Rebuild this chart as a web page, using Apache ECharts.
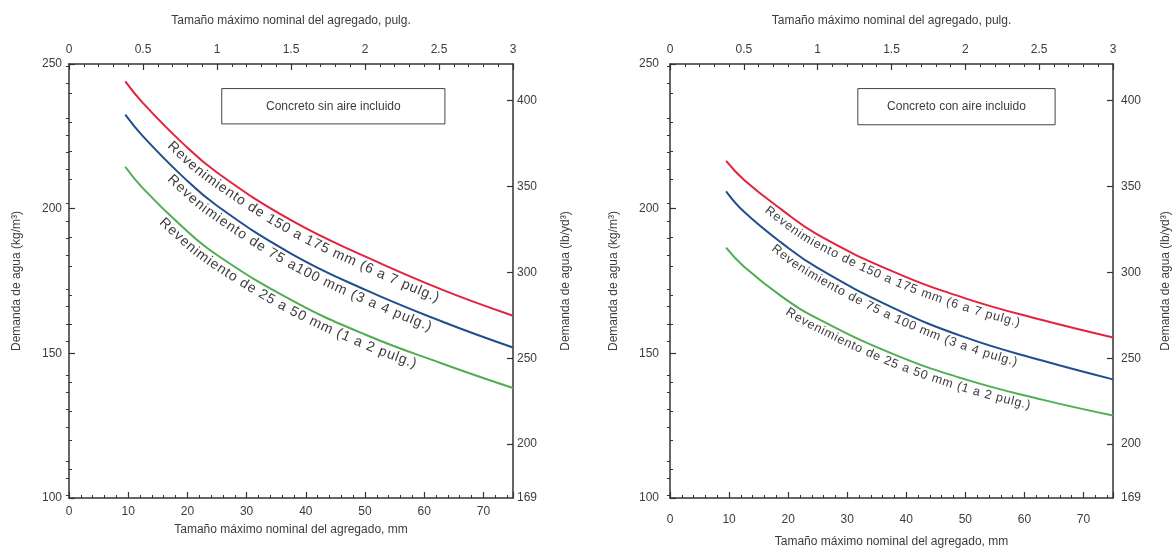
<!DOCTYPE html>
<html>
<head>
<meta charset="utf-8">
<script src="https://cdn.jsdelivr.net/npm/echarts@6/dist/echarts.min.js"></script>
<style>
  html, body { margin: 0; padding: 0; background: #ffffff; }
  #chart { width: 1173px; height: 548px; }
</style>
</head>
<body>
<div id="chart"></div>
<script>
// ---------------- DATA ----------------
const sizesMm = [9.5, 12.5, 19, 25, 37.5, 50, 63, 75];

// Concreto sin aire incluido (kg/m³)
const sinAire150 = [244, 236.5, 223, 212.5, 196, 183.5, 172, 163];
const sinAire75  = [232.5, 225, 211.5, 201, 184.5, 172, 161, 152];
const sinAire25  = [214.5, 207, 194, 184, 168.5, 156.5, 146.5, 138];

// Concreto con aire incluido (kg/m³)
const conAire150 = [216.5, 210, 199.5, 191, 178.5, 169, 161.5, 155.5];
const conAire75  = [206, 199, 188, 179.5, 166, 155.5, 147.5, 141];
const conAire25  = [186.5, 180, 169.5, 162, 150, 141, 134, 128.5];

const labelsSin = [
  'Revenimiento de 150 a 175 mm (6 a 7 pulg.)',
  'Revenimiento de 75 a100 mm (3 a 4 pulg.)',
  'Revenimiento de 25 a 50 mm (1 a 2 pulg.)'
];
const labelsCon = [
  'Revenimiento de 150 a 175 mm (6 a 7 pulg.)',
  'Revenimiento de 75 a 100 mm (3 a 4 pulg.)',
  'Revenimiento de 25 a 50 mm (1 a 2 pulg.)'
];
const boxTitles = ['Concreto sin aire incluido', 'Concreto con aire incluido'];

const lbLabelTicks = [169, 200, 250, 300, 350, 400];
const lbMajorTicks = [200, 250, 300, 350, 400];
const KG_TO_LB = 1.6856;

const titleMm = 'Tamaño máximo nominal del agregado, mm';
const titleIn = 'Tamaño máximo nominal del agregado, pulg.';
const titleKg = 'Demanda de agua (kg/m³)';
const titleLb = 'Demanda de agua (lb/yd³)';

// ---------------- STYLE ----------------
const FONT = '"Liberation Sans", Arial, Helvetica, sans-serif';
const AX = '#333333';
const TXT = '#3c3c3c';
const COLORS = ['#e3223d', '#1f4f8f', '#4fae52'];

// curved label placement (mm range along the curve)
const labelRangesSin = [[18, 63], [18, 61.5], [16.7, 59]];
const labelRangesCon = [[17.2, 59.3], [18.3, 59], [20.6, 61]];
// annotation boxes [xmm0, xmm1, ykg0, ykg1]
const boxPos = [[25.8, 63.5, 241.5, 229.3], [31.8, 65.2, 241.5, 229.0]];

const lbMinorTicks = [];
for (let v = 170; v <= 420; v += 10) if (v % 50 !== 0) lbMinorTicks.push(v);

const chart = echarts.init(document.getElementById('chart'), null, { renderer: 'canvas' });

function axesFor(g, L) {
  const common = {
    gridIndex: g, type: 'value',
    axisLine: { show: true, onZero: false, lineStyle: { color: AX, width: 1.5 } },
    splitLine: { show: false },
    nameLocation: 'middle',
    nameTextStyle: { color: TXT, fontSize: 12, fontFamily: FONT }
  };
  const lab = { color: TXT, fontSize: 12, fontFamily: FONT };
  const x = [
    Object.assign({}, common, {
      position: 'bottom', min: 0, max: 75, interval: 10,
      axisTick: { show: true, inside: true, length: 6, lineStyle: { color: AX, width: 1.2 } },
      minorTick: { show: true, splitNumber: 5, length: 3, lineStyle: { color: AX, width: 1 } },
      axisLabel: Object.assign({ margin: L.bm, showMaxLabel: false }, lab),
      name: titleMm, nameGap: L.bg
    }),
    Object.assign({}, common, {
      position: 'top', min: 0, max: 3, interval: 0.5,
      axisTick: { show: true, inside: true, length: 6, lineStyle: { color: AX, width: 1.2 } },
      minorTick: { show: true, splitNumber: 5, length: 3, lineStyle: { color: AX, width: 1 } },
      axisLabel: Object.assign({ margin: 8 }, lab),
      name: titleIn, nameGap: 37
    })
  ];
  const y = [
    Object.assign({}, common, {
      position: 'left', min: 100, max: 250, interval: 50,
      axisTick: { show: true, inside: true, length: 6, lineStyle: { color: AX, width: 1.2 } },
      minorTick: { show: true, splitNumber: 5, length: 3, lineStyle: { color: AX, width: 1 } },
      axisLabel: Object.assign({ margin: L.lm }, lab),
      name: titleKg, nameGap: L.lg, nameRotate: 90
    }),
    Object.assign({}, common, {
      position: 'right', min: 100, max: 250,
      axisTick: { show: true, inside: true, length: 6, customValues: lbMajorTicks.map(v => v / KG_TO_LB), lineStyle: { color: AX, width: 1.2 } },
      axisLabel: Object.assign({ margin: L.rm, customValues: lbLabelTicks.map(v => v / KG_TO_LB), formatter: v => String(Math.round(v * KG_TO_LB)) }, lab),
      name: titleLb, nameGap: L.rg, nameRotate: 90
    }),
    Object.assign({}, common, {
      position: 'right', min: 100, max: 250,
      axisLine: { show: false },
      axisTick: { show: true, inside: true, length: 3, customValues: lbMinorTicks.map(v => v / KG_TO_LB), lineStyle: { color: AX, width: 1 } },
      axisLabel: { show: false }
    })
  ];
  return { x, y };
}

const a0 = axesFor(0, { bm: 8, bg: 26, lm: 7, lg: 46, rm: 4, rg: 47 });
const a1 = axesFor(1, { bm: 16, bg: 38, lm: 11, lg: 50, rm: 8, rg: 47 });

function mkSeries(vals, xi, yi, color) {
  return {
    type: 'line', xAxisIndex: xi, yAxisIndex: yi,
    data: sizesMm.map((x, i) => [x, vals[i]]),
    showSymbol: false, smooth: 0.45,
    lineStyle: { color: color, width: 2 }, silent: true
  };
}

chart.setOption({
  animation: false,
  backgroundColor: '#ffffff',
  grid: [
    { left: 69, right: 1173 - 513, top: 64, bottom: 548 - 498, outerBoundsMode: 'none', containLabel: false },
    { left: 670, right: 1173 - 1113, top: 64, bottom: 548 - 498, outerBoundsMode: 'none', containLabel: false }
  ],
  xAxis: a0.x.concat(a1.x),
  yAxis: a0.y.concat(a1.y),
  series: [
    mkSeries(sinAire150, 0, 0, COLORS[0]),
    mkSeries(sinAire75, 0, 0, COLORS[1]),
    mkSeries(sinAire25, 0, 0, COLORS[2]),
    mkSeries(conAire150, 2, 3, COLORS[0]),
    mkSeries(conAire75, 2, 3, COLORS[1]),
    mkSeries(conAire25, 2, 3, COLORS[2])
  ]
});

// ---------------- ANNOTATIONS ----------------
const measureCtx = document.createElement('canvas').getContext('2d');
function textW(s, size) { measureCtx.font = size + 'px ' + FONT; return measureCtx.measureText(s).width; }

function catmull(pts, steps) {
  const out = [];
  for (let i = 0; i < pts.length - 1; i++) {
    const p0 = pts[Math.max(0, i - 1)], p1 = pts[i], p2 = pts[i + 1], p3 = pts[Math.min(pts.length - 1, i + 2)];
    for (let k = 0; k < steps; k++) {
      const t = k / steps, t2 = t * t, t3 = t2 * t;
      const f = (a, b, c, d) => 0.5 * (2 * b + (-a + c) * t + (2 * a - 5 * b + 4 * c - d) * t2 + (-a + 3 * b - 3 * c + d) * t3);
      out.push([f(p0[0], p1[0], p2[0], p3[0]), f(p0[1], p1[1], p2[1], p3[1])]);
    }
  }
  out.push(pts[pts.length - 1]);
  return out;
}

function curvedText(vals, xi, yi, text, range, size) {
  const pts = sizesMm.map((x, i) => chart.convertToPixel({ xAxisIndex: xi, yAxisIndex: yi }, [x, vals[i]]));
  const dense = catmull(pts, 30);
  const x0 = chart.convertToPixel({ xAxisIndex: xi }, range[0]);
  const x1 = chart.convertToPixel({ xAxisIndex: xi }, range[1]);
  const off = [];
  const d = 2.5 + size * 0.5;
  for (let i = 0; i < dense.length; i++) {
    const a = dense[Math.max(0, i - 1)], b = dense[Math.min(dense.length - 1, i + 1)];
    let tx = b[0] - a[0], ty = b[1] - a[1];
    const L = Math.hypot(tx, ty) || 1; tx /= L; ty /= L;
    if (dense[i][0] >= x0 - 30 && dense[i][0] <= x1 + 40) off.push([dense[i][0] - ty * d, dense[i][1] + tx * d, dense[i][0]]);
  }
  const cum = [0];
  for (let i = 1; i < off.length; i++) cum.push(cum[i - 1] + Math.hypot(off[i][0] - off[i - 1][0], off[i][1] - off[i - 1][1]));
  const arcAt = (px) => { for (let i = 0; i < off.length; i++) if (off[i][2] >= px) return cum[i]; return cum[cum.length - 1]; };
  const s0 = arcAt(x0), s1 = arcAt(x1);
  const chars = Array.from(text);
  const W = textW(text, size);
  const extra = Math.min(1.0, Math.max(-0.8, (s1 - s0 - W) / (chars.length - 1)));
  const els = [];
  let s = s0;
  for (const ch of chars) {
    const w = textW(ch, size);
    const sc = s + w / 2;
    let j = 1; while (j < cum.length - 1 && cum[j] < sc) j++;
    const seg = cum[j] - cum[j - 1] || 1;
    const f = Math.min(1, Math.max(0, (sc - cum[j - 1]) / seg));
    const p = [off[j - 1][0] + (off[j][0] - off[j - 1][0]) * f, off[j - 1][1] + (off[j][1] - off[j - 1][1]) * f];
    const ang = Math.atan2(off[j][1] - off[j - 1][1], off[j][0] - off[j - 1][0]);
    if (ch !== ' ') {
      els.push({ type: 'text', x: p[0], y: p[1], rotation: -ang, silent: true, z: 10,
        style: { text: ch, font: size + 'px ' + FONT, fill: TXT, align: 'center', verticalAlign: 'middle' } });
    }
    s += w + extra;
  }
  return els;
}

function box(xi, yi, pos, title) {
  const p0 = chart.convertToPixel({ xAxisIndex: xi, yAxisIndex: yi }, [pos[0], pos[2]]);
  const p1 = chart.convertToPixel({ xAxisIndex: xi, yAxisIndex: yi }, [pos[1], pos[3]]);
  return [
    { type: 'rect', silent: true, z: 5, shape: { x: p0[0], y: p0[1], width: p1[0] - p0[0], height: p1[1] - p0[1] },
      style: { fill: '#ffffff', stroke: '#444444', lineWidth: 1 } },
    { type: 'text', silent: true, z: 6, x: (p0[0] + p1[0]) / 2, y: (p0[1] + p1[1]) / 2,
      style: { text: title, font: '12px ' + FONT, fill: TXT, align: 'center', verticalAlign: 'middle' } }
  ];
}

let g = [];
g = g.concat(box(0, 0, boxPos[0], boxTitles[0]));
g = g.concat(box(2, 3, boxPos[1], boxTitles[1]));
[sinAire150, sinAire75, sinAire25].forEach((v, i) => { g = g.concat(curvedText(v, 0, 0, labelsSin[i], labelRangesSin[i], 14)); });
[conAire150, conAire75, conAire25].forEach((v, i) => { g = g.concat(curvedText(v, 2, 3, labelsCon[i], labelRangesCon[i], 12.5)); });
chart.setOption({ graphic: g });
</script>
</body>
</html>
